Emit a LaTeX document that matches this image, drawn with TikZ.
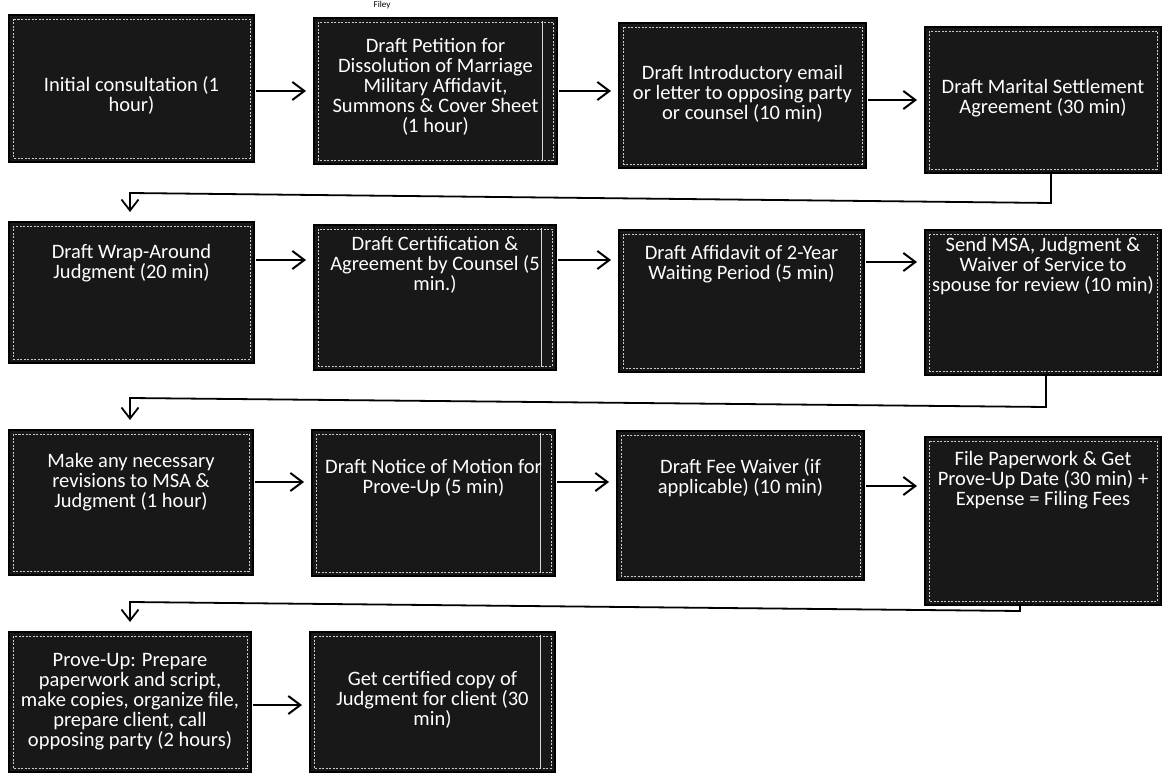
\documentclass[tikz,border=0pt]{standalone}
\usepackage{fontspec}
\setmainfont{Carlito}
\usetikzlibrary{arrows.meta}
\definecolor{boxfill}{RGB}{24,24,24}
\newcommand{\mkbox}[5]{%
  \node[box, minimum width={#4-#2}, minimum height={#5-#3}] (#1) at ({(#2+#4)/2},{(#3+#5)/2}) {};
  \draw[innerb] (#2+4,#3+4) rectangle (#4-4,#5-4);
}
\begin{document}
\begin{tikzpicture}[x=1pt,y=-1pt,
  box/.style={draw=black,line width=1.2pt,fill=boxfill,inner sep=0pt,outer sep=0pt},
  innerb/.style={draw=white!80!black,line width=0.6pt,dash pattern=on 2pt off 1.5pt},
  txt/.style={text=white,align=center,inner sep=0pt,font=\fontsize{20.5}{20}\selectfont},
  arr/.style={line width=2pt,-{Straight Barb[length=12pt,width=18pt]},shorten <=2pt,shorten >=8pt},
  conn/.style={line width=1.8pt,-{Straight Barb[length=11pt,width=17pt]},line join=miter,shorten >=10pt},
  scanline/.style={draw=white!85!black,line width=1pt}]
\useasboundingbox (0,0) rectangle (1162,775);
\fill[white] (0,0) rectangle (1162,775);

\node[font=\fontsize{9}{9}\selectfont,anchor=base] (hdr) at (382,8) {Filey};

% row 1
\mkbox{b1}{9}{15}{254}{162}
\mkbox{b2}{314}{18}{557}{164}
\mkbox{b3}{619}{23}{866}{168}
\mkbox{b4}{925}{27}{1161}{173}
% row 2
\mkbox{b5}{9}{222}{254}{363}
\mkbox{b6}{314}{225}{556}{370}
\mkbox{b7}{619}{230}{864}{372}
\mkbox{b8}{925}{230}{1161}{375}
% row 3
\mkbox{b9}{9}{430}{253}{575}
\mkbox{b10}{312}{430}{555}{576}
\mkbox{b11}{617}{431}{864}{580}
\mkbox{b12}{925}{437}{1161}{605}
% row 4
\mkbox{b13}{9}{632}{251}{772}
\mkbox{b14}{310}{632}{555}{772}

\draw[scanline] (542,21) -- (542,161);
\draw[scanline] (541,228) -- (541,367);
\draw[scanline] (540,433) -- (540,573);
\draw[scanline] (540,635) -- (540,769);

\node[txt] (t1) at (131.5,95) {Initial consultation (1\\hour)};
\node[txt] (t2) at (435.5,87) {Draft Petition for\\Dissolution of Marriage\\Military Affidavit,\\Summons \& Cover Sheet\\(1 hour)};
\node[txt] (t3) at (742.5,94) {Draft Introductory email\\or letter to opposing party\\or counsel (10 min)};
\node[txt] (t4) at (1043,98) {Draft Marital Settlement\\Agreement (30 min)};

\node[txt] (t5) at (131.5,263) {Draft Wrap-Around\\Judgment (20 min)};
\node[txt] (t6) at (435,265) {Draft Certification \&\\Agreement by Counsel (5\\min.)};
\node[txt] (t7) at (741.5,264) {Draft Affidavit of 2-Year\\Waiting Period (5 min)};
\node[txt] (t8) at (1043,266) {Send MSA, Judgment \&\\Waiver of Service to\\spouse for review (10 min)};

\node[txt] (t9) at (131,482) {Make any necessary\\revisions to MSA \&\\Judgment (1 hour)};
\node[txt] (t10) at (433.5,478) {Draft Notice of Motion for\\Prove-Up (5 min)};
\node[txt] (t11) at (740.5,478) {Draft Fee Waiver (if\\applicable) (10 min)};
\node[txt] (t12) at (1043,480) {File Paperwork \& Get\\Prove-Up Date (30 min) +\\Expense = Filing Fees};

\node[txt] (t13) at (130,702) {Prove-Up: Prepare\\paperwork and script,\\make copies, organize file,\\prepare client, call\\opposing party (2 hours)};
\node[txt] (t14) at (432.5,700) {Get certified copy of\\Judgment for client (30\\min)};

% horizontal arrows
\coordinate (r1a) at (0,91);
\coordinate (r1b) at (0,100);
\coordinate (r2a) at (0,260);
\coordinate (r2b) at (0,262);
\coordinate (r3a) at (0,482);
\coordinate (r3b) at (0,486);
\coordinate (r4) at (0,705);
\draw[arr] (b1.east |- r1a) -- (b2.west |- r1a);
\draw[arr] (b2.east |- r1a) -- (b3.west |- r1a);
\draw[arr] (b3.east |- r1b) -- (b4.west |- r1b);
\draw[arr] (b5.east |- r2a) -- (b6.west |- r2a);
\draw[arr] (b6.east |- r2a) -- (b7.west |- r2a);
\draw[arr] (b7.east |- r2b) -- (b8.west |- r2b);
\draw[arr] (b9.east |- r3a) -- (b10.west |- r3a);
\draw[arr] (b10.east |- r3a) -- (b11.west |- r3a);
\draw[arr] (b11.east |- r3b) -- (b12.west |- r3b);
\draw[arr] (b13.east |- r4) -- (b14.west |- r4);

% row connectors
\coordinate (c1r) at (1051,203);
\coordinate (c1l) at (130,193);
\coordinate (c2r) at (1046,407);
\coordinate (c2l) at (130,398);
\coordinate (c3r) at (1020,611);
\coordinate (c3l) at (130,602);
\draw[conn] (b4.south -| c1r) -- (c1r) -- (c1l) -- (b5.north -| c1l);
\draw[conn] (b8.south -| c2r) -- (c2r) -- (c2l) -- (b9.north -| c2l);
\draw[conn] (b12.south -| c3r) -- (c3r) -- (c3l) -- (b13.north -| c3l);
\end{tikzpicture}
\end{document}
